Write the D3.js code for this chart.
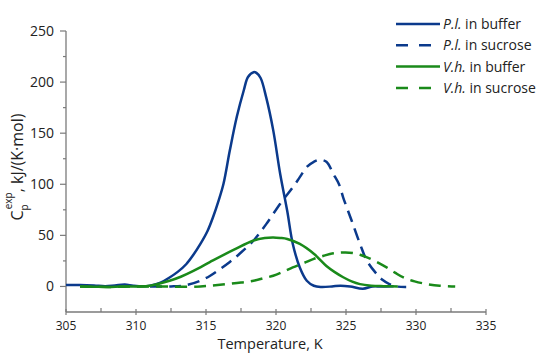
<!DOCTYPE html>
<html>
<head>
<meta charset="utf-8">
<script src="https://cdn.jsdelivr.net/npm/d3@7"></script>
<style>
  body { margin: 0; background: #fff; }
  text { font-family: "Open Sans", "DejaVu Sans", sans-serif; fill: #222; }
</style>
</head>
<body>
<svg id="chart" width="550" height="354"></svg>
<script>
// ---- Data (Temperature K, Cp kJ/(K·mol)) ----
const plBuffer = [
  [305,1.5],[306,1.5],[307,1.0],[307.8,0.3],[308.5,1.0],[309.2,1.8],[309.8,0.8],[310.5,0.2],
  [311,0.8],[311.7,3.5],[312.4,8.8],[313.0,14.5],[313.6,22],[314.1,31],[314.6,41.6],[315.1,54],
  [315.5,67.7],[315.9,84],[316.25,100.5],[316.7,133],[317.2,166],[317.7,192],[318.0,205],
  [318.4,209.7],[318.6,209],[318.9,204],[319.3,185],[319.8,153],[320.3,110],[320.8,74],
  [321.2,41.6],[321.7,18.6],[322.2,5.6],[322.7,0.7],[323.2,-0.5],[324,0],[324.6,0.8],
  [325.3,0],[326.2,-2.2],[326.9,0],[327.5,0],[328.4,0.3]
];
const plSucrose = [
  [311,0],[312.5,0],[313.5,1],[314.6,5.6],[315.3,10.5],[316,17],[316.7,24],[317.4,32],
  [318.4,45],[319.3,61],[320.3,81],[321.2,97],[321.7,107],[322.2,117],[322.7,122],[323.1,124],
  [323.6,122],[324.1,110],[324.5,100],[324.8,87],[325.05,77.5],[325.4,64.5],[326,41.6],
  [326.5,25],[327.2,12],[327.6,6.5],[328.1,2.3],[328.6,0],[329.3,-0.5]
];
const vhBuffer = [
  [306,0],[307,-0.3],[308,-0.5],[309,0],[310,0],[311,0.7],[312.4,5.6],[313.2,9.5],[314.1,15.2],
  [315.5,25.5],[317,36],[318.4,45],[319.2,47.5],[319.8,48],[320.3,47.5],[320.8,46.5],[321.7,41.6],
  [322.7,32],[323.6,20],[324.2,14],[324.8,9],[325.4,5],[326,2.3],[326.8,0.8],[327.7,0.3],[328.7,0]
];
const vhSucrose = [
  [306,0],[308,-0.5],[310,0],[312,0],[313.5,-0.3],[314.6,0],[315.5,1],[316.5,2.3],[317.5,3.8],
  [318.4,5.6],[319.1,8],[319.8,10.5],[320.5,14.3],[321.2,18.6],[322,23],[322.7,27],[323.4,30],
  [324.1,32.4],[324.8,33.2],[325.5,32.8],[326,31],[326.5,28.5],[327.2,24],[327.9,18.6],
  [328.5,13.5],[329.1,8.8],[329.9,5],[330.8,2.3],[331.7,0.7],[332.8,0]
];
const seriesNames = ["P.l.", "P.l.", "V.h.", "V.h."];
const seriesSuffix = [" in buffer", " in sucrose", " in buffer", " in sucrose"];
const xTicks = [305, 310, 315, 320, 325, 330, 335];
const yTicks = [0, 50, 100, 150, 200, 250];

const BLUE = "#0b3a8c", GREEN = "#1a8a1a";
const series = [
  {data: plBuffer, color: BLUE, dash: null},
  {data: plSucrose, color: BLUE, dash: "12,7"},
  {data: vhBuffer, color: GREEN, dash: null},
  {data: vhSucrose, color: GREEN, dash: "12,7"}
];

const svg = d3.select("#chart");
const x = d3.scaleLinear().domain([305, 335]).range([66, 486]);
const y = d3.scaleLinear().domain([-25, 250]).range([312, 31]);
const axisColor = "#7a7a7a";

// axes lines
svg.append("line").attr("x1", x(305)).attr("x2", x(335)).attr("y1", y(-25)).attr("y2", y(-25))
  .attr("stroke", axisColor).attr("stroke-width", 1.3);
svg.append("line").attr("x1", x(305)).attr("x2", x(305)).attr("y1", y(-25)).attr("y2", y(250))
  .attr("stroke", axisColor).attr("stroke-width", 1.3);

// x ticks
xTicks.forEach(t => {
  svg.append("line").attr("x1", x(t)).attr("x2", x(t)).attr("y1", y(-25) - 3).attr("y2", y(-25) + 3)
    .attr("stroke", axisColor).attr("stroke-width", 1.2);
  svg.append("text").attr("x", x(t)).attr("y", y(-25) + 18).attr("text-anchor", "middle")
    .attr("font-size", 12).text(t);
});
d3.range(307.5, 335, 5).forEach(t => {
  svg.append("line").attr("x1", x(t)).attr("x2", x(t)).attr("y1", y(-25) - 4).attr("y2", y(-25))
    .attr("stroke", axisColor).attr("stroke-width", 1.2);
});
// y ticks
yTicks.forEach(t => {
  svg.append("line").attr("x1", x(305) - 6).attr("x2", x(305)).attr("y1", y(t)).attr("y2", y(t))
    .attr("stroke", axisColor).attr("stroke-width", 1.2);
  svg.append("text").attr("x", 54).attr("y", y(t)).attr("dy", "0.36em").attr("text-anchor", "end")
    .attr("font-size", 14).text(t);
});
d3.range(25, 250, 50).forEach(t => {
  svg.append("line").attr("x1", x(305) - 3).attr("x2", x(305)).attr("y1", y(t)).attr("y2", y(t))
    .attr("stroke", axisColor).attr("stroke-width", 1.2);
});

// axis titles
svg.append("text").attr("x", 270).attr("y", 349).attr("text-anchor", "middle")
  .attr("font-size", 14.5).text("Temperature, K");

const yt = svg.append("text").attr("transform", "translate(23,167) rotate(-90)")
  .attr("text-anchor", "middle").attr("font-size", 16);
yt.append("tspan").text("C");
yt.append("tspan").attr("font-size", 10).attr("dy", 5).text("p");
yt.append("tspan").attr("font-size", 10).attr("dx", -5).attr("dy", -16).text("exp");
yt.append("tspan").attr("dy", 11).text(", kJ/(K·mol)");

// lines
const line = d3.line().x(d => x(d[0])).y(d => y(d[1])).curve(d3.curveCatmullRom.alpha(0.5));
series.forEach(s => {
  svg.append("path").attr("d", line(s.data)).attr("fill", "none")
    .attr("stroke", s.color).attr("stroke-width", 2.5)
    .attr("stroke-dasharray", s.dash);
});

// legend
series.forEach((s, i) => {
  const cy = 24 + i * 21.3;
  svg.append("line").attr("x1", 396).attr("x2", s.dash ? 431 : 440).attr("y1", cy).attr("y2", cy)
    .attr("stroke", s.color).attr("stroke-width", 2.5)
    .attr("stroke-dasharray", s.dash ? "12,11" : null);
  const t = svg.append("text").attr("x", 443).attr("y", cy).attr("dy", "0.36em").attr("font-size", 14);
  t.append("tspan").attr("font-style", "italic").text(seriesNames[i]);
  t.append("tspan").text(seriesSuffix[i]);
});
</script>
</body>
</html>
